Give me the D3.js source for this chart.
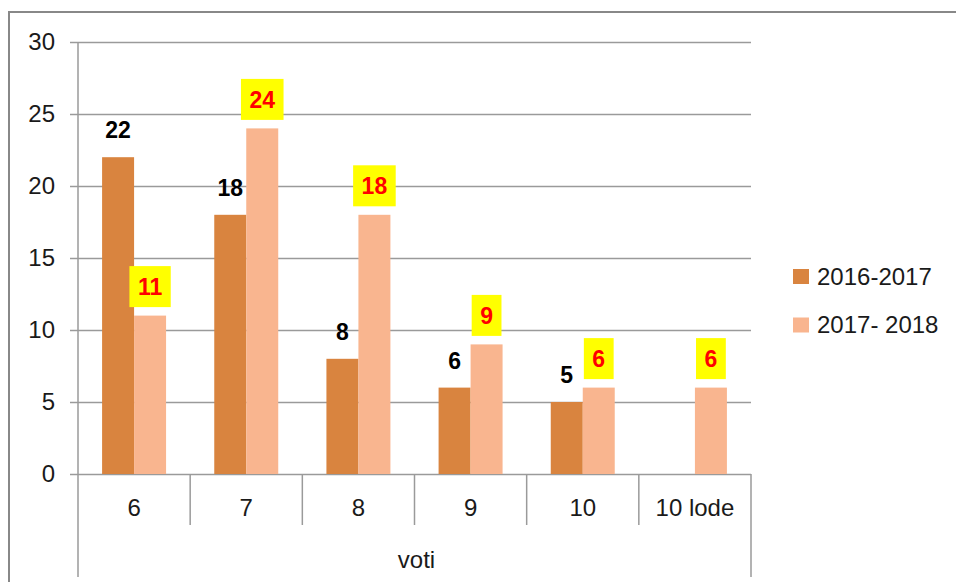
<!DOCTYPE html>
<html>
<head>
<meta charset="utf-8">
<script src="https://cdn.jsdelivr.net/npm/d3@7"></script>
<style>
  body { margin: 0; background: #fff; }
  svg { display: block; font-family: "Liberation Sans", Arial, sans-serif; }
</style>
</head>
<body>
<script>
// Data
const categories = ['6', '7', '8', '9', '10', '10 lode'];
const seriesNames = ['2016-2017', '2017- 2018'];
const values2016 = [22, 18, 8, 6, 5, null];
const values2017 = [11, 24, 18, 9, 6, 6];
const yTicks = [0, 5, 10, 15, 20, 25, 30];
const axisTitle = 'voti';

// Constant
const w = 956;
const h = 582;
const plotLeft = 78, plotRight = 751, plotTop = 42, plotBottom = 474;
const colors = ['#d9843f', '#f9b58f'];

const svg = d3.select('body')
  .append('svg')
  .attr('width', w)
  .attr('height', h);

// frame
svg.append('path')
  .attr('d', 'M9,' + h + ' L9,12 L' + w + ',12')
  .attr('fill', 'none')
  .attr('stroke', '#888')
  .attr('stroke-width', 2);

// scales
const y = d3.scaleLinear().domain([0, 30]).range([plotBottom, plotTop]);
const x0 = d3.scaleBand().domain(categories).range([plotLeft, plotRight]);
const x1 = d3.scaleBand().domain(seriesNames).range([0, x0.bandwidth()]).paddingOuter(0.753);

// grid + value labels
const yAxis = svg.append('g')
  .attr('transform', 'translate(70,0)')
  .call(d3.axisLeft(y).tickValues(yTicks).tickSize(-(plotRight - 70)).tickPadding(15));
yAxis.select('.domain').remove();
yAxis.selectAll('line').attr('stroke', '#9a9a9a').attr('stroke-width', 1.5);
yAxis.selectAll('text')
  .attr('fill', '#1a1a1a')
  .style('font-size', '24px')
  .style('font-family', '"Liberation Sans", Arial, sans-serif');

// value axis line
svg.append('line')
  .attr('x1', plotLeft).attr('x2', plotLeft)
  .attr('y1', plotTop).attr('y2', 577)
  .attr('stroke', '#9a9a9a').attr('stroke-width', 1.5);
svg.append('line')
  .attr('x1', plotRight).attr('x2', plotRight)
  .attr('y1', plotBottom).attr('y2', 577)
  .attr('stroke', '#9a9a9a').attr('stroke-width', 1.5);

// category separators
svg.selectAll('.sep')
  .data(categories.slice(1))
  .enter()
  .append('line')
  .attr('class', 'sep')
  .attr('x1', d => x0(d)).attr('x2', d => x0(d))
  .attr('y1', plotBottom).attr('y2', 525)
  .attr('stroke', '#9a9a9a').attr('stroke-width', 1.5);

// category labels
svg.selectAll('.cat')
  .data(categories)
  .enter()
  .append('text')
  .attr('class', 'cat')
  .attr('x', d => x0(d) + x0.bandwidth() / 2)
  .attr('y', 508)
  .attr('dy', '0.35em')
  .attr('text-anchor', 'middle')
  .attr('fill', '#1a1a1a')
  .style('font-size', '24px')
  .text(d => d);

svg.append('text')
  .attr('x', (plotLeft + plotRight) / 2 + 2)
  .attr('y', 560)
  .attr('dy', '0.35em')
  .attr('text-anchor', 'middle')
  .attr('fill', '#1a1a1a')
  .style('font-size', '24px')
  .text(axisTitle);

// bars
const rows = categories.map((c, i) => ({ cat: c, vals: [values2016[i], values2017[i]] }));

const groups = svg.selectAll('.grp')
  .data(rows)
  .enter()
  .append('g')
  .attr('class', 'grp')
  .attr('transform', d => 'translate(' + x0(d.cat) + ',0)');

groups.selectAll('rect')
  .data(d => d.vals.map((v, j) => ({ s: seriesNames[j], j: j, v: v })).filter(e => e.v != null))
  .enter()
  .append('rect')
  .attr('x', d => x1(d.s))
  .attr('y', d => y(d.v))
  .attr('width', x1.bandwidth())
  .attr('height', d => plotBottom - y(d.v))
  .attr('fill', d => colors[d.j]);

// labels for 2016-2017
svg.selectAll('.lab1')
  .data(rows.filter(d => d.vals[0] != null))
  .enter()
  .append('text')
  .attr('class', 'lab1')
  .attr('x', d => x0(d.cat) + x1(seriesNames[0]) + x1.bandwidth() / 2)
  .attr('y', d => y(d.vals[0]) - 19)
  .attr('text-anchor', 'middle')
  .attr('fill', '#000')
  .style('font-size', '23px')
  .style('font-weight', 'bold')
  .text(d => d.vals[0]);

// labels for 2017-2018 (yellow boxes)
const lab2 = svg.selectAll('.lab2')
  .data(rows)
  .enter()
  .append('g')
  .attr('class', 'lab2')
  .attr('transform', d => 'translate(' + (x0(d.cat) + x1(seriesNames[1]) + x1.bandwidth() / 2) + ',' + (y(d.vals[1]) - 8.5 - 20.5) + ')');

lab2.append('text')
  .attr('text-anchor', 'middle')
  .attr('dy', '0.37em')
  .attr('fill', '#ff0000')
  .style('font-size', '23px')
  .style('font-weight', 'bold')
  .text(d => d.vals[1]);

lab2.insert('rect', 'text')
  .each(function() {
    const tw = this.parentNode.querySelector('text').getComputedTextLength();
    d3.select(this)
      .attr('x', -tw / 2 - 8.5)
      .attr('y', -20.5)
      .attr('width', tw + 17)
      .attr('height', 41)
      .attr('fill', '#ffff00');
  });

// legend
const legend = svg.selectAll('.leg')
  .data(seriesNames)
  .enter()
  .append('g')
  .attr('class', 'leg')
  .attr('transform', (d, i) => 'translate(793,' + (269 + i * 48.5) + ')');

legend.append('rect')
  .attr('width', 16)
  .attr('height', 15)
  .attr('fill', (d, i) => colors[i]);

legend.append('text')
  .attr('x', 24)
  .attr('y', 7.5)
  .attr('dy', '0.35em')
  .attr('fill', '#1a1a1a')
  .style('font-size', '24px')
  .text(d => d);
</script>
</body>
</html>
